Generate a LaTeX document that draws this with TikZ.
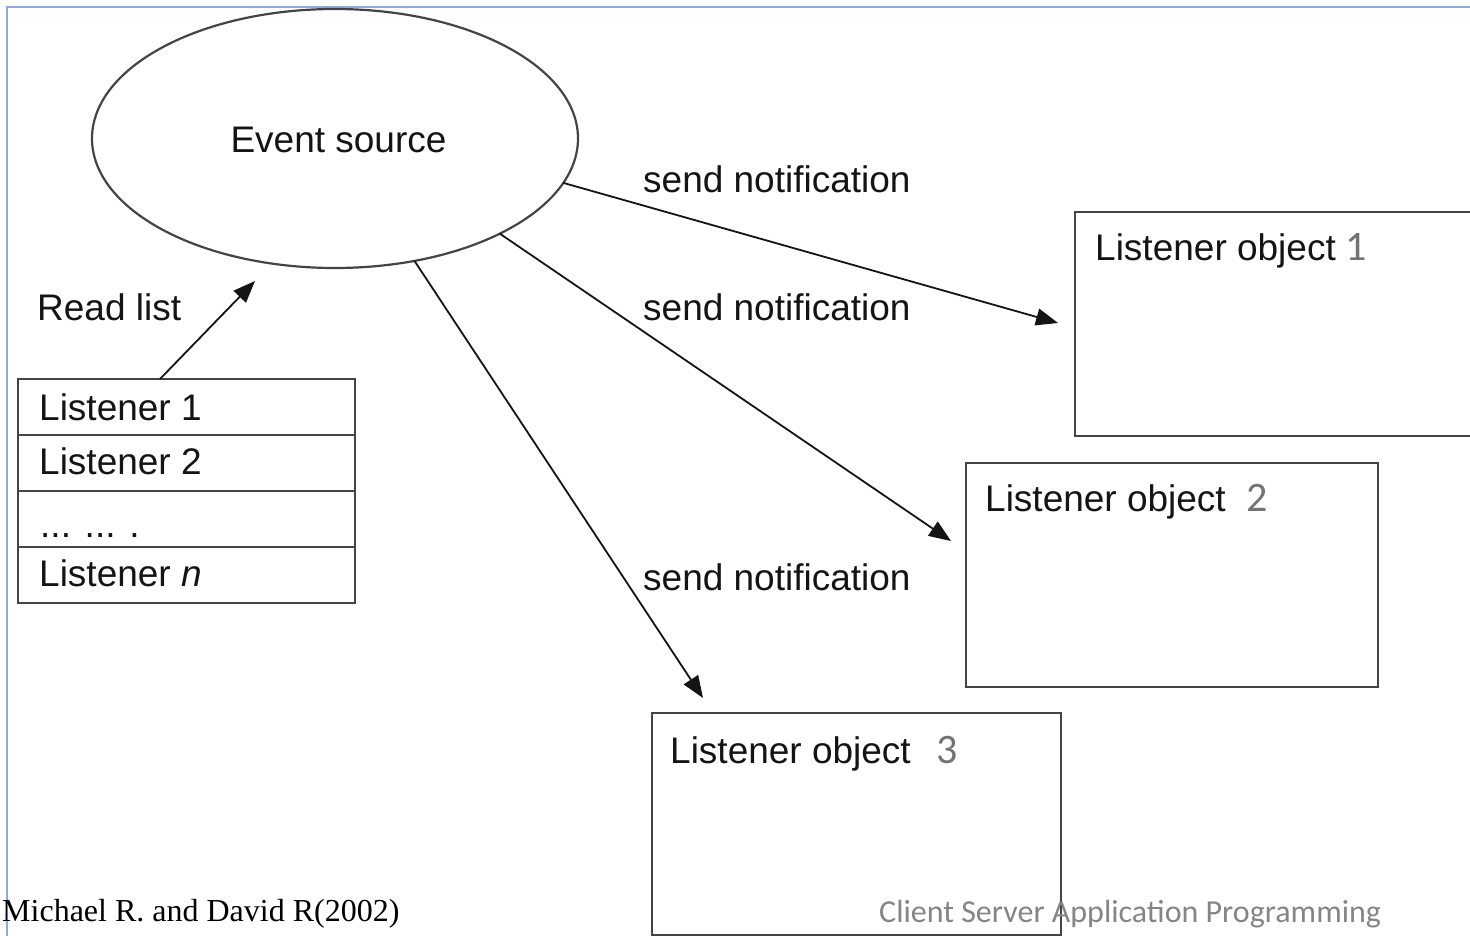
\documentclass[tikz,border=0pt]{standalone}
\usepackage{fontspec}
\setmainfont{Liberation Sans}
\newfontfamily\carlito{Carlito}
\newfontfamily\timesf{Liberation Serif}
\usetikzlibrary{shapes.geometric,arrows.meta}
\definecolor{ink}{HTML}{141414}
\definecolor{edge}{HTML}{444444}
\definecolor{frameblue}{HTML}{8EAADB}
\definecolor{numgray}{HTML}{737373}
\definecolor{footgray}{HTML}{858585}
\begin{document}
\begin{tikzpicture}[x=1pt,y=-1pt,
  lbl/.style={font=\fontsize{37}{41}\selectfont, text=ink, inner sep=0, anchor=base west},
  num/.style={font=\carlito\fontsize{42}{46}\selectfont, text=numgray, inner sep=0, anchor=base west},
  objbox/.style={draw=edge, line width=2.2pt, inner sep=0, outer sep=0, anchor=north west},
  rowbox/.style={draw=edge, line width=2.4pt, inner sep=0, outer sep=0, anchor=north west,
                 minimum width=337pt, minimum height=56pt},
  arr/.style={draw=ink, line width=1.8pt, -{Triangle[length=22pt,width=17pt]}}]
\useasboundingbox (0,0) rectangle (1470,936);
\clip (0,0) rectangle (1470,936);

% page frame
\draw[frameblue, line width=2pt] (1472,7.5) -- (6.5,7.5) -- (6.5,940);

% event source
\node[ellipse, draw=edge, line width=2.2pt, inner sep=0, outer sep=0,
      minimum width=486pt, minimum height=259pt] (src) at (335,138.5) {};
\node[font=\fontsize{37}{41}\selectfont, text=ink, inner sep=0, anchor=base]
  (srclbl) at (338.5,153) {Event source};

% listener list
\node[rowbox] (row1) at (18,379) {};
\node[rowbox] (row2) at (18,435) {};
\node[rowbox] (row3) at (18,491) {};
\node[rowbox] (row4) at (18,547) {};
\node[lbl] (t1) at (39,420) {Listener 1};
\node[lbl] (t2) at (39,474) {Listener 2};
\node[lbl] (t3) at (40,537) {... ... .};
\node[lbl] (t4) at (39,586) {Listener \textit{n}};

\node[lbl] (readlbl) at (37,320) {Read list};
\coordinate (rl0) at (160,379);
\coordinate (rl1) at (255,281);
\draw[arr] (rl0) -- (rl1);

% listener objects
\node[objbox, minimum width=420pt, minimum height=224pt] (obj1) at (1075,212) {};
\node[objbox, minimum width=412pt, minimum height=224pt] (obj2) at (966,463) {};
\node[objbox, minimum width=409pt, minimum height=222pt] (obj3) at (652,713) {};

\node[lbl] (o1) at (1095,260) {Listener object};
\node[num] (n1) at (1345,260) {1};
\node[lbl] (o2) at (985,511) {Listener object};
\node[num] (n2) at (1246,511) {2};
\node[lbl] (o3) at (670,763) {Listener object};
\node[num] (n3) at (936,763) {3};

% notifications
\coordinate (e1) at (1058,323);
\coordinate (e2) at (951,541);
\coordinate (e3) at (703,698);
\draw[arr] (src.-11.2) -- (e1);
\draw[arr] (src.-30.8) -- (e2);
\draw[arr] (src.-57.7) -- (e3);

\node[lbl] (s1) at (643,193) {send notification};
\node[lbl] (s2) at (643,320) {send notification};
\node[lbl] (s3) at (643,590) {send notification};

% footer
\node[font=\timesf\fontsize{32}{36}\selectfont, text=black, inner sep=0, anchor=base west]
  (cite) at (2,921) {Michael R. and David R(2002)};
\node[font=\carlito\fontsize{32}{36}\selectfont, text=footgray, inner sep=0, anchor=base west]
  (course) at (879,922) {Client Server Application Programming};
\end{tikzpicture}
\end{document}
